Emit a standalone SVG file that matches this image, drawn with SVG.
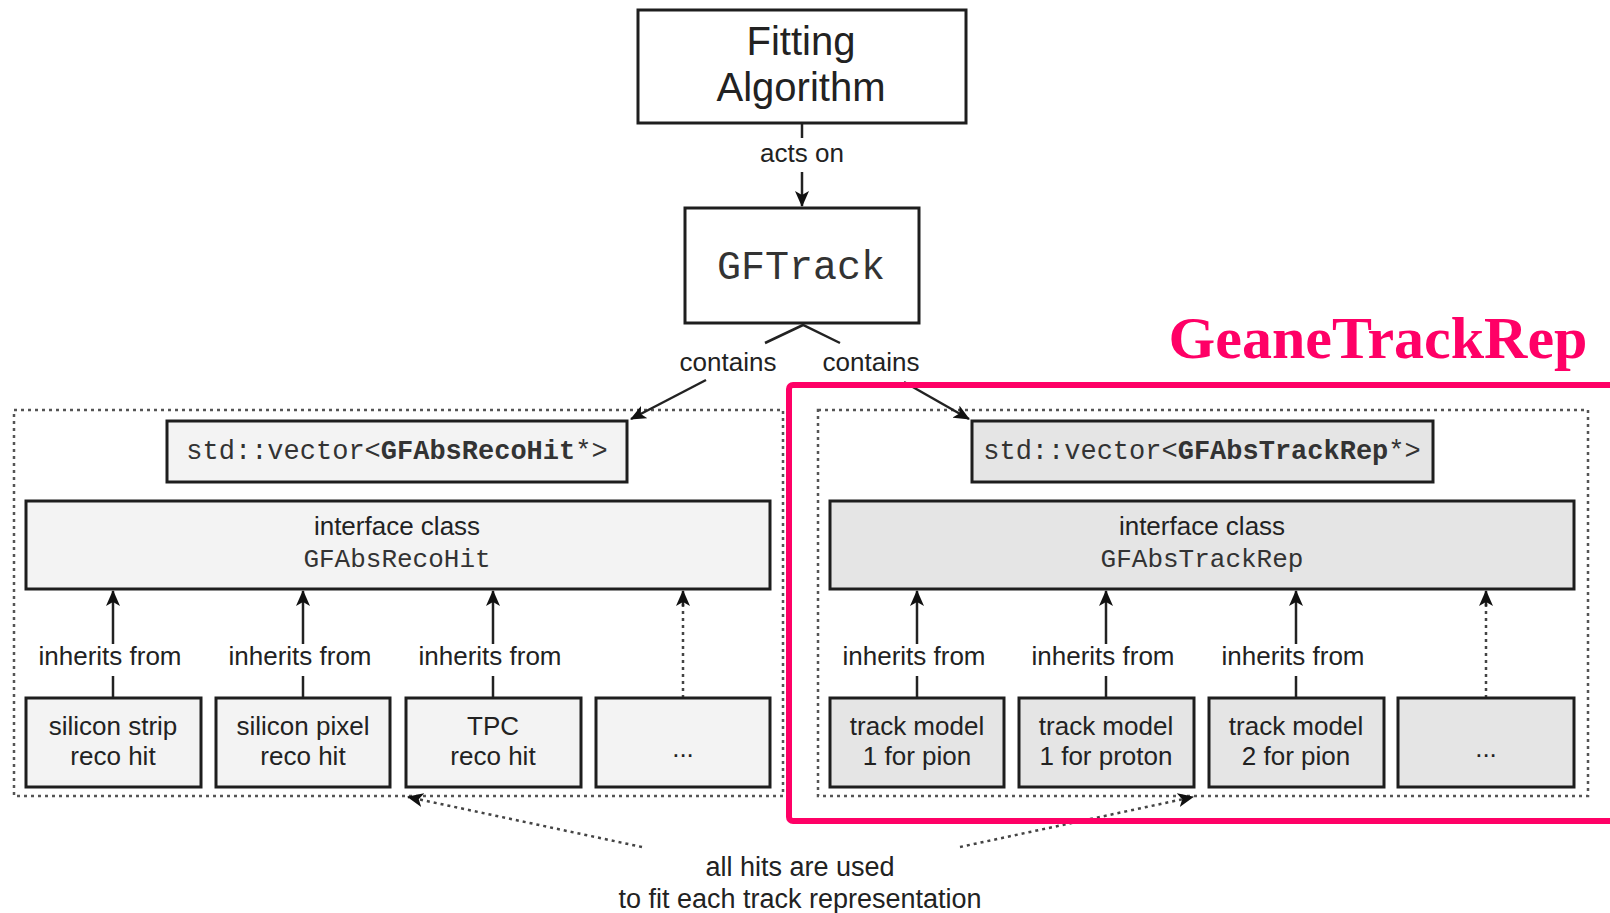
<svg xmlns="http://www.w3.org/2000/svg" width="1610" height="913" viewBox="0 0 1610 913">
<defs>
<style>
.box{stroke:#1e1e1e;stroke-width:3}
.top{fill:#fff}
.lf{fill:#f3f3f3}
.rf{fill:#e5e5e5}
.sans{font-family:"Liberation Sans",Arial,sans-serif;fill:#222;text-anchor:middle}
.mono{font-family:"Liberation Mono","Courier New",monospace;fill:#333;text-anchor:middle}
.lbl{font-size:26px}
.cont{fill:none;stroke:#555;stroke-width:2.5;stroke-dasharray:3 4}
.ln{fill:none;stroke:#222;stroke-width:2.5}
.dot{fill:none;stroke:#444;stroke-width:2.5;stroke-dasharray:3 4}
</style>
<marker id="arr2" markerWidth="16" markerHeight="14" refX="15" refY="7" orient="auto" markerUnits="userSpaceOnUse" viewBox="0 0 16 14">
<path d="M0,0 L16,7 L0,14 L4,7 z" fill="#111"/>
</marker>
</defs>
<rect width="1610" height="913" fill="#fff"/>

<rect class="cont" x="14" y="410" width="769" height="386"/>
<rect class="cont" x="818" y="410" width="770" height="386"/>

<g id="connectors">
<line class="ln" x1="802" y1="123" x2="802" y2="138"/>
<line class="ln" x1="802" y1="172" x2="802" y2="206" marker-end="url(#arr2)"/>
<polyline class="ln" points="765,343 803,325 840,343"/>
<line class="ln" x1="706" y1="380" x2="631" y2="419" marker-end="url(#arr2)"/>
<line class="ln" x1="904" y1="382" x2="969" y2="419" marker-end="url(#arr2)"/>
<g>
<line class="ln" x1="113" y1="698" x2="113" y2="676"/><line class="ln" x1="113" y1="644" x2="113" y2="591" marker-end="url(#arr2)"/>
<line class="ln" x1="303" y1="698" x2="303" y2="676"/><line class="ln" x1="303" y1="644" x2="303" y2="591" marker-end="url(#arr2)"/>
<line class="ln" x1="493" y1="698" x2="493" y2="676"/><line class="ln" x1="493" y1="644" x2="493" y2="591" marker-end="url(#arr2)"/>
<line class="dot" x1="683" y1="698" x2="683" y2="593"/><line class="ln" x1="683" y1="606" x2="683" y2="591" marker-end="url(#arr2)"/>
<line class="ln" x1="917" y1="698" x2="917" y2="676"/><line class="ln" x1="917" y1="644" x2="917" y2="591" marker-end="url(#arr2)"/>
<line class="ln" x1="1106" y1="698" x2="1106" y2="676"/><line class="ln" x1="1106" y1="644" x2="1106" y2="591" marker-end="url(#arr2)"/>
<line class="ln" x1="1296" y1="698" x2="1296" y2="676"/><line class="ln" x1="1296" y1="644" x2="1296" y2="591" marker-end="url(#arr2)"/>
<line class="dot" x1="1486" y1="698" x2="1486" y2="593"/><line class="ln" x1="1486" y1="606" x2="1486" y2="591" marker-end="url(#arr2)"/>
</g>
<line class="dot" x1="642" y1="847" x2="408" y2="797" marker-end="url(#arr2)"/>
<line class="dot" x1="960" y1="847" x2="1193" y2="797" marker-end="url(#arr2)"/>
</g>

<g class="sans lbl">
<text x="802" y="162">acts on</text>
<text x="728" y="371">contains</text>
<text x="871" y="371">contains</text>
<text x="110" y="665">inherits from</text>
<text x="300" y="665">inherits from</text>
<text x="490" y="665">inherits from</text>
<text x="914" y="665">inherits from</text>
<text x="1103" y="665">inherits from</text>
<text x="1293" y="665">inherits from</text>
<text x="800" y="876" font-size="27">all hits are used</text>
<text x="800" y="908" font-size="27">to fit each track representation</text>
</g>

<g id="fitting">
<rect class="box top" x="638" y="10" width="328" height="113"/>
<text class="sans" x="801" y="55" font-size="40">Fitting</text>
<text class="sans" x="801" y="101" font-size="40">Algorithm</text>
</g>
<g id="gftrack">
<rect class="box top" x="685" y="208" width="234" height="115"/>
<text class="mono" x="801" y="279" font-size="40" fill="#222">GFTrack</text>
</g>

<g id="vecHit">
<rect class="box lf" x="167" y="421" width="460" height="61"/>
<text class="mono" x="397" y="459" font-size="27">std::vector&lt;<tspan font-weight="bold">GFAbsRecoHit</tspan>*&gt;</text>
</g>
<g id="ifHit">
<rect class="box lf" x="26" y="501" width="744" height="88"/>
<text class="sans lbl" x="397" y="535">interface class</text>
<text class="mono" x="397" y="567" font-size="26">GFAbsRecoHit</text>
</g>
<g id="strip"><rect class="box lf" x="26" y="698" width="175" height="89"/>
<text class="sans lbl" x="113" y="735">silicon strip</text><text class="sans lbl" x="113" y="765">reco hit</text></g>
<g id="pixel"><rect class="box lf" x="216" y="698" width="174" height="89"/>
<text class="sans lbl" x="303" y="735">silicon pixel</text><text class="sans lbl" x="303" y="765">reco hit</text></g>
<g id="tpc"><rect class="box lf" x="406" y="698" width="175" height="89"/>
<text class="sans lbl" x="493" y="735">TPC</text><text class="sans lbl" x="493" y="765">reco hit</text></g>
<g id="moreHit"><rect class="box lf" x="596" y="698" width="174" height="89"/>
<text class="sans lbl" x="683" y="757">...</text></g>

<g id="vecRep">
<rect class="box rf" x="972" y="421" width="461" height="61"/>
<text class="mono" x="1202" y="459" font-size="27">std::vector&lt;<tspan font-weight="bold">GFAbsTrackRep</tspan>*&gt;</text>
</g>
<g id="ifRep">
<rect class="box rf" x="830" y="501" width="744" height="88"/>
<text class="sans lbl" x="1202" y="535">interface class</text>
<text class="mono" x="1202" y="567" font-size="26">GFAbsTrackRep</text>
</g>
<g id="tm1"><rect class="box rf" x="830" y="698" width="174" height="89"/>
<text class="sans lbl" x="917" y="735">track model</text><text class="sans lbl" x="917" y="765">1 for pion</text></g>
<g id="tm2"><rect class="box rf" x="1019" y="698" width="175" height="89"/>
<text class="sans lbl" x="1106" y="735">track model</text><text class="sans lbl" x="1106" y="765">1 for proton</text></g>
<g id="tm3"><rect class="box rf" x="1209" y="698" width="175" height="89"/>
<text class="sans lbl" x="1296" y="735">track model</text><text class="sans lbl" x="1296" y="765">2 for pion</text></g>
<g id="moreRep"><rect class="box rf" x="1398" y="698" width="176" height="89"/>
<text class="sans lbl" x="1486" y="757">...</text></g>

<g id="geane">
<rect x="789" y="385" width="840" height="436" rx="4" fill="none" stroke="#ff0066" stroke-width="6"/>
<text x="1378" y="358" font-family="'Liberation Serif','Times New Roman',serif" font-weight="bold" font-size="60" fill="#ff0066" text-anchor="middle">GeaneTrackRep</text>
</g>
</svg>
